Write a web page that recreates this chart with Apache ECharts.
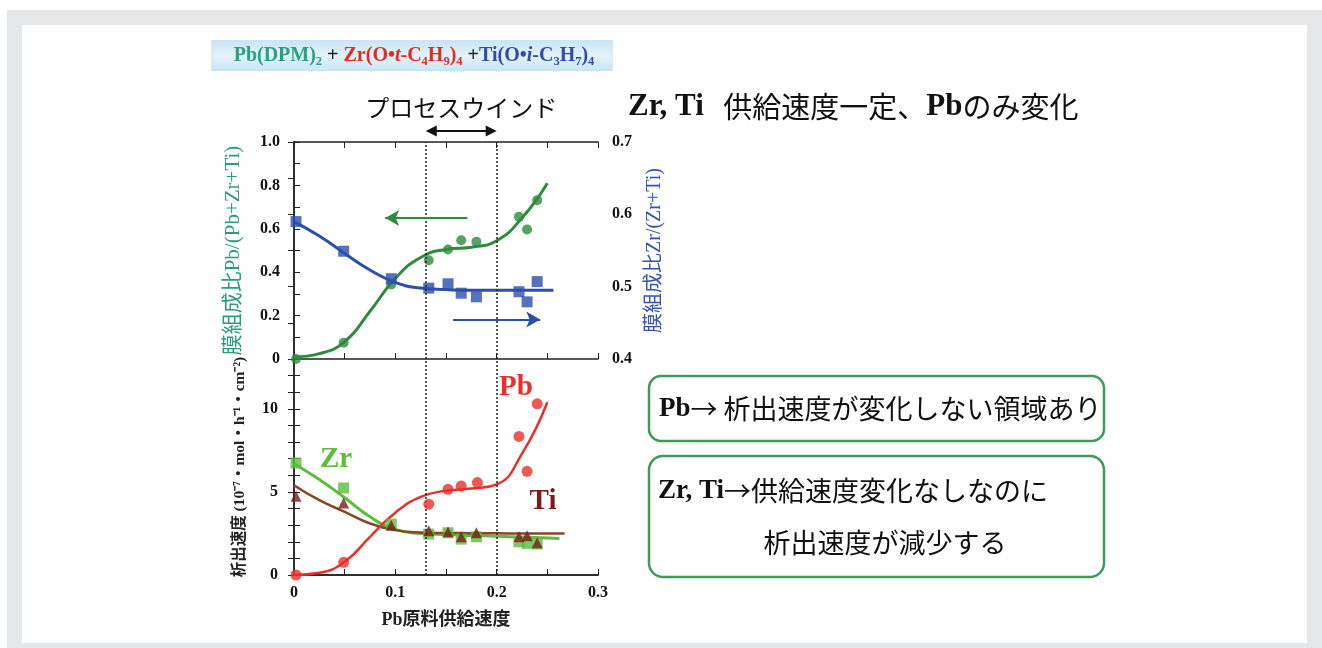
<!DOCTYPE html>
<html>
<head>
<meta charset="utf-8">
<script src="https://cdn.jsdelivr.net/npm/echarts@6/dist/echarts.min.js"></script>
<style>
  html, body { margin: 0; padding: 0; background: #ffffff; }
  #frame { position: absolute; left: 7px; top: 10px; width: 1315px; height: 638px; background: #e6e7e9; }
  #sheet { position: absolute; left: 22px; top: 25px; width: 1285px; height: 618px; background: #ffffff; }
  #chart { position: absolute; left: 0; top: 0; width: 1322px; height: 648px; }
</style>
</head>
<body>
<div id="frame"></div>
<div id="sheet"></div>
<div id="chart"></div>
<script>
// Pb feed rate for each deposition run
const feedRate = [0.002, 0.049, 0.096, 0.133, 0.152, 0.165, 0.180, 0.222, 0.230, 0.240];
// Film composition Pb/(Pb+Zr+Ti) (left axis) and Zr/(Zr+Ti) (right axis)
const pbRatio = [0.0, 0.075, 0.343, 0.455, 0.505, 0.547, 0.540, 0.655, 0.597, 0.732];
const zrRatio = [0.590, 0.549, 0.511, 0.498, 0.504, 0.491, 0.486, 0.493, 0.479, 0.507];
// Deposition rates (10^-7 mol/h/cm2)
const pbRateFeed = [0.002, 0.049, 0.133, 0.152, 0.165, 0.181, 0.222, 0.230, 0.240];
const pbRate = [0.0, 0.76, 4.26, 5.16, 5.36, 5.56, 8.34, 6.24, 10.3];
const zrRate = [6.74, 5.24, 3.06, 2.46, 2.54, 2.16, 2.30, 2.00, 1.90, 1.86];
const tiRate = [4.74, 4.34, 3.00, 2.66, 2.60, 2.30, 2.54, 2.30, 2.36, 1.94];

// Guide curves drawn through the measured points
const fitX = [0, 0.025, 0.05, 0.075, 0.1, 0.125, 0.15, 0.175, 0.2, 0.225, 0.25];
const pbRatioFit = [0.01, 0.025, 0.08, 0.22, 0.372, 0.468, 0.505, 0.515, 0.545, 0.65, 0.81];
const zrRatioFit = [0.590, 0.570, 0.546, 0.523, 0.506, 0.498, 0.496, 0.495, 0.495, 0.495, 0.495];
const pbRateFit = [0.0, 0.13, 0.8, 2.3, 3.75, 4.7, 5.07, 5.2, 5.45, 7.3, 10.4];
const zrRateFit = [6.7, 5.75, 4.65, 3.5, 2.75, 2.5, 2.43, 2.38, 2.33, 2.28, 2.23];
const tiRateFit = [5.4, 4.5, 3.8, 3.1, 2.7, 2.56, 2.53, 2.52, 2.51, 2.5, 2.5];
// end points of the guide curves
const fitEnd = { zrRatio: [0.256, 0.495], zrRate: [0.262, 2.2], tiRate: [0.267, 2.5] };

// Process window limits on the Pb feed rate
const windowEdges = [0.13, 0.2];

const xTicks = ['0', '0.1', '0.2', '0.3'];

const zip = (xs, ys) => ys.map((y, i) => [xs[i], y]);

const SERIF = '"Liberation Serif", "Times New Roman", serif';
const JP = '"Noto Sans CJK JP", sans-serif';
const SERIF_JP = '"Liberation Serif", "Noto Sans CJK JP", serif';

const GREEN = '#2e8b3e';
const BLUE = '#2c4fae';
const RED = '#e8302b';
const ZR = '#5cbc3c';
const TI = '#7a1c1c';
const TI_LINE = '#8a4426';

const tickLabel = { fontFamily: SERIF, fontWeight: 'bold', fontSize: 16, color: '#111' };
const axisLine = { show: true, lineStyle: { color: '#222', width: 1.5 } };
const tickIn = (len) => ({ show: true, inside: true, length: len, lineStyle: { color: '#222', width: 1 } });

function fmtX(v) {
  const k = Math.round(v * 20);
  if (k % 2 !== 0) return '';
  return xTicks[k / 2] || '';
}

const chart = echarts.init(document.getElementById('chart'));

const windowLines = {
  silent: true,
  symbol: ['none', 'none'],
  label: { show: false },
  lineStyle: { color: '#222', type: [2, 2], width: 1.5 },
  data: windowEdges.map(x => ({ xAxis: x }))
};

const curve = (xAxisIndex, yAxisIndex, data, color, width, extra) => Object.assign({
  type: 'line', xAxisIndex, yAxisIndex, smooth: 0.5, showSymbol: false, silent: true,
  lineStyle: { color, width }, data, z: 3
}, extra || {});

const option = {
  animation: false,
  grid: [
    { left: 294, top: 142, width: 304, height: 217 },
    { left: 294, top: 359, width: 304, height: 216 }
  ],
  xAxis: [
    { gridIndex: 0, type: 'value', min: 0, max: 0.3, interval: 0.05, position: 'bottom',
      axisLine, axisTick: tickIn(6), axisLabel: { show: false }, splitLine: { show: false } },
    { gridIndex: 0, type: 'value', min: 0, max: 0.3, interval: 0.05, position: 'top',
      axisLine, axisTick: tickIn(6), axisLabel: { show: false }, splitLine: { show: false } },
    { gridIndex: 1, type: 'value', min: 0, max: 0.3, interval: 0.05, position: 'bottom',
      axisLine, axisTick: tickIn(6), splitLine: { show: false },
      axisLabel: Object.assign({ formatter: fmtX, margin: 10 }, tickLabel),
      name: 'Pb原料供給速度', nameLocation: 'middle', nameGap: 36,
      nameTextStyle: { fontFamily: SERIF_JP, fontWeight: 'bold', fontSize: 18, color: '#222' } },
    { gridIndex: 1, type: 'value', min: 0, max: 0.3, interval: 0.05, position: 'top',
      axisLine, axisTick: { show: false }, axisLabel: { show: false }, splitLine: { show: false } }
  ],
  yAxis: [
    { gridIndex: 0, type: 'value', min: 0, max: 1, interval: 0.1, position: 'left',
      axisLine, axisTick: tickIn(6), splitLine: { show: false },
      axisLabel: Object.assign({ margin: 14, formatter: v => {
        const k = Math.round(v * 10);
        if (k % 2 !== 0) return '';
        return k === 0 ? '0' : (k / 10).toFixed(1);
      } }, tickLabel),
      name: '膜組成比Pb/(Pb+Zr+Ti)', nameLocation: 'middle', nameGap: 50, nameRotate: 90,
      nameTextStyle: { fontFamily: SERIF_JP, fontSize: 21, color: '#2a9d7a' } },
    { gridIndex: 0, type: 'value', min: 0.4, max: 0.7, interval: 0.05, position: 'right',
      axisLine, axisTick: tickIn(6), splitLine: { show: false },
      axisLabel: Object.assign({ margin: 14, formatter: v => {
        const k = Math.round(v * 20);
        return k % 2 === 0 ? (k / 20).toFixed(1) : '';
      } }, tickLabel),
      name: '膜組成比Zr/(Zr+Ti)', nameLocation: 'middle', nameGap: 47, nameRotate: 90,
      nameTextStyle: { fontFamily: SERIF_JP, fontSize: 20, color: '#3552b4' } },
    { gridIndex: 1, type: 'value', min: 0, max: 13, interval: 1, position: 'left',
      axisLine, axisTick: tickIn(6), splitLine: { show: false },
      axisLabel: Object.assign({ margin: 16, formatter: v => (v % 5 === 0 && v <= 10 ? String(v) : '') }, tickLabel),
      name: '析出速度 (10⁻⁷・mol・h⁻¹・cm⁻²)', nameLocation: 'middle', nameGap: 46, nameRotate: 90,
      nameTextStyle: { fontFamily: SERIF_JP, fontWeight: 'bold', fontSize: 15.5, color: '#222' } },
    { gridIndex: 1, type: 'value', min: 0, max: 13, interval: 1, position: 'right',
      axisLine, axisTick: tickIn(6), axisLabel: { show: false }, splitLine: { show: false } }
  ],
  series: [
    // top panel: composition
    curve(0, 0, zip(fitX, pbRatioFit), GREEN, 3, { markLine: windowLines }),
    curve(0, 1, zip(fitX, zrRatioFit).concat([fitEnd.zrRatio]), BLUE, 3),
    { type: 'scatter', name: 'Pb/(Pb+Zr+Ti)', xAxisIndex: 0, yAxisIndex: 0, symbol: 'circle', symbolSize: 10,
      itemStyle: { color: GREEN }, data: zip(feedRate, pbRatio), z: 4, clip: false,
      markLine: { silent: true, symbol: ['none', 'arrow'], symbolSize: [12, 14], label: { show: false },
        lineStyle: { color: GREEN, width: 2, type: 'solid' },
        data: [[{ coord: [0.171, 0.65] }, { coord: [0.09, 0.65] }]] } },
    { type: 'scatter', name: 'Zr/(Zr+Ti)', xAxisIndex: 0, yAxisIndex: 1, symbol: 'rect', symbolSize: 11,
      itemStyle: { color: BLUE }, data: zip(feedRate, zrRatio), z: 4,
      markLine: { silent: true, symbol: ['none', 'arrow'], symbolSize: [12, 14], label: { show: false },
        lineStyle: { color: BLUE, width: 2, type: 'solid' },
        data: [[{ coord: [0.157, 0.4546] }, { coord: [0.243, 0.4546] }]] } },

    // bottom panel: deposition rates
    curve(2, 2, zip(fitX, zrRateFit).concat([fitEnd.zrRate]), ZR, 3, { markLine: windowLines }),
    curve(2, 2, zip(fitX, tiRateFit).concat([fitEnd.tiRate]), TI_LINE, 2.5),
    curve(2, 2, zip(fitX, pbRateFit), RED, 2.5),
    { type: 'scatter', name: 'Zr', xAxisIndex: 2, yAxisIndex: 2, symbol: 'rect', symbolSize: 11,
      itemStyle: { color: ZR }, data: zip(feedRate, zrRate), z: 4 },
    { type: 'scatter', name: 'Ti', xAxisIndex: 2, yAxisIndex: 2, symbol: 'triangle', symbolSize: 11,
      itemStyle: { color: TI }, data: zip(feedRate, tiRate), z: 5 },
    { type: 'scatter', name: 'Pb', xAxisIndex: 2, yAxisIndex: 2, symbol: 'circle', symbolSize: 11,
      itemStyle: { color: RED }, data: zip(pbRateFeed, pbRate), z: 5, clip: false }
  ]
};

chart.setOption(option);

// Annotations placed relative to the axes
const wx0 = chart.convertToPixel({ xAxisIndex: 0 }, windowEdges[0]);
const wx1 = chart.convertToPixel({ xAxisIndex: 0 }, windowEdges[1]);

const rs = (fill, extra) => Object.assign({ fontFamily: SERIF, fontWeight: 'bold', fontSize: 20, fill, lineHeight: 25 }, extra || {});
const sub = (fill) => ({ fontFamily: SERIF, fontWeight: 'bold', fontSize: 12.5, fill, lineHeight: 12, verticalAlign: 'bottom' });

chart.setOption({
  graphic: [
    // precursor formula banner
    { type: 'rect', left: 211, top: 40, shape: { width: 402, height: 31 },
      style: { fill: new echarts.graphic.LinearGradient(0, 0, 0, 1, [
        { offset: 0, color: '#c8e5f4' }, { offset: 0.5, color: '#e2f2fa' }, { offset: 1, color: '#c8e5f4' }]) } },
    { type: 'text', x: 414, y: 56,
      style: {
        text: '{g|Pb(DPM)}{gs|2}{k| + }{r|Zr(O•}{ri|t}{r|-C}{rs|4}{r|H}{rs|9}{r|)}{rs|4}{k| +}{b|Ti(O•}{bi|i}{b|-C}{bs|3}{b|H}{bs|7}{b|)}{bs|4}',
        align: 'center', verticalAlign: 'middle',
        rich: {
          g: rs('#27a37c'), gs: sub('#27a37c'),
          k: rs('#222'),
          r: rs('#e52a22'), ri: rs('#e52a22', { fontStyle: 'italic' }), rs: sub('#e52a22'),
          b: rs('#2f4da8'), bi: rs('#2f4da8', { fontStyle: 'italic' }), bs: sub('#2f4da8')
        }
      } },

    // process window caption and span arrow
    { type: 'text', x: (wx0 + wx1) / 2, y: 108,
      style: { text: 'プロセスウインド', font: '24px ' + JP, fill: '#111', align: 'center', verticalAlign: 'middle' } },
    { type: 'line', shape: { x1: wx0 + 8, y1: 131, x2: wx1 - 8, y2: 131 }, style: { stroke: '#111', lineWidth: 2 } },
    { type: 'polygon', shape: { points: [[wx0, 131], [wx0 + 11, 125.5], [wx0 + 11, 136.5]] }, style: { fill: '#111' } },
    { type: 'polygon', shape: { points: [[wx1, 131], [wx1 - 11, 125.5], [wx1 - 11, 136.5]] }, style: { fill: '#111' } },

    // heading
    { type: 'text', x: 628, y: 107,
      style: {
        text: '{s|Zr, Ti}{j|   供給速度一定、}{s|Pb}{j|のみ変化}', verticalAlign: 'middle',
        rich: {
          s: { fontFamily: SERIF, fontWeight: 'bold', fontSize: 31, fill: '#111' },
          j: { fontFamily: JP, fontSize: 29, fill: '#111' }
        }
      } },

    // series labels in the rate panel
    { type: 'text', x: 336, y: 460, style: { text: 'Zr', font: 'bold 29px ' + SERIF, fill: ZR, align: 'center', verticalAlign: 'middle' } },
    { type: 'text', x: 543, y: 502, style: { text: 'Ti', font: 'bold 29px ' + SERIF, fill: TI, align: 'center', verticalAlign: 'middle' } },
    { type: 'text', x: 516, y: 388, style: { text: 'Pb', font: 'bold 29px ' + SERIF, fill: RED, align: 'center', verticalAlign: 'middle' } },

    // remarks
    { type: 'rect', shape: { x: 649, y: 376, width: 455, height: 65, r: 12 },
      style: { fill: '#fff', stroke: '#3e9a5c', lineWidth: 2.5 } },
    { type: 'text', x: 659, y: 409,
      style: {
        text: '{s|Pb}{j|→ 析出速度が変化しない領域あり}', verticalAlign: 'middle',
        rich: {
          s: { fontFamily: SERIF, fontWeight: 'bold', fontSize: 27, fill: '#111' },
          j: { fontFamily: JP, fontSize: 27, fill: '#111' }
        }
      } },
    { type: 'rect', shape: { x: 649, y: 456, width: 455, height: 121, r: 14 },
      style: { fill: '#fff', stroke: '#3e9a5c', lineWidth: 2.5 } },
    { type: 'text', x: 658, y: 491,
      style: {
        text: '{s|Zr, Ti}{j|→供給速度変化なしなのに}', verticalAlign: 'middle',
        rich: {
          s: { fontFamily: SERIF, fontWeight: 'bold', fontSize: 27, fill: '#111' },
          j: { fontFamily: JP, fontSize: 27, fill: '#111' }
        }
      } },
    { type: 'text', x: 885, y: 543,
      style: { text: '析出速度が減少する', font: '27px ' + JP, fill: '#111', align: 'center', verticalAlign: 'middle' } }
  ]
});
</script>
</body>
</html>
